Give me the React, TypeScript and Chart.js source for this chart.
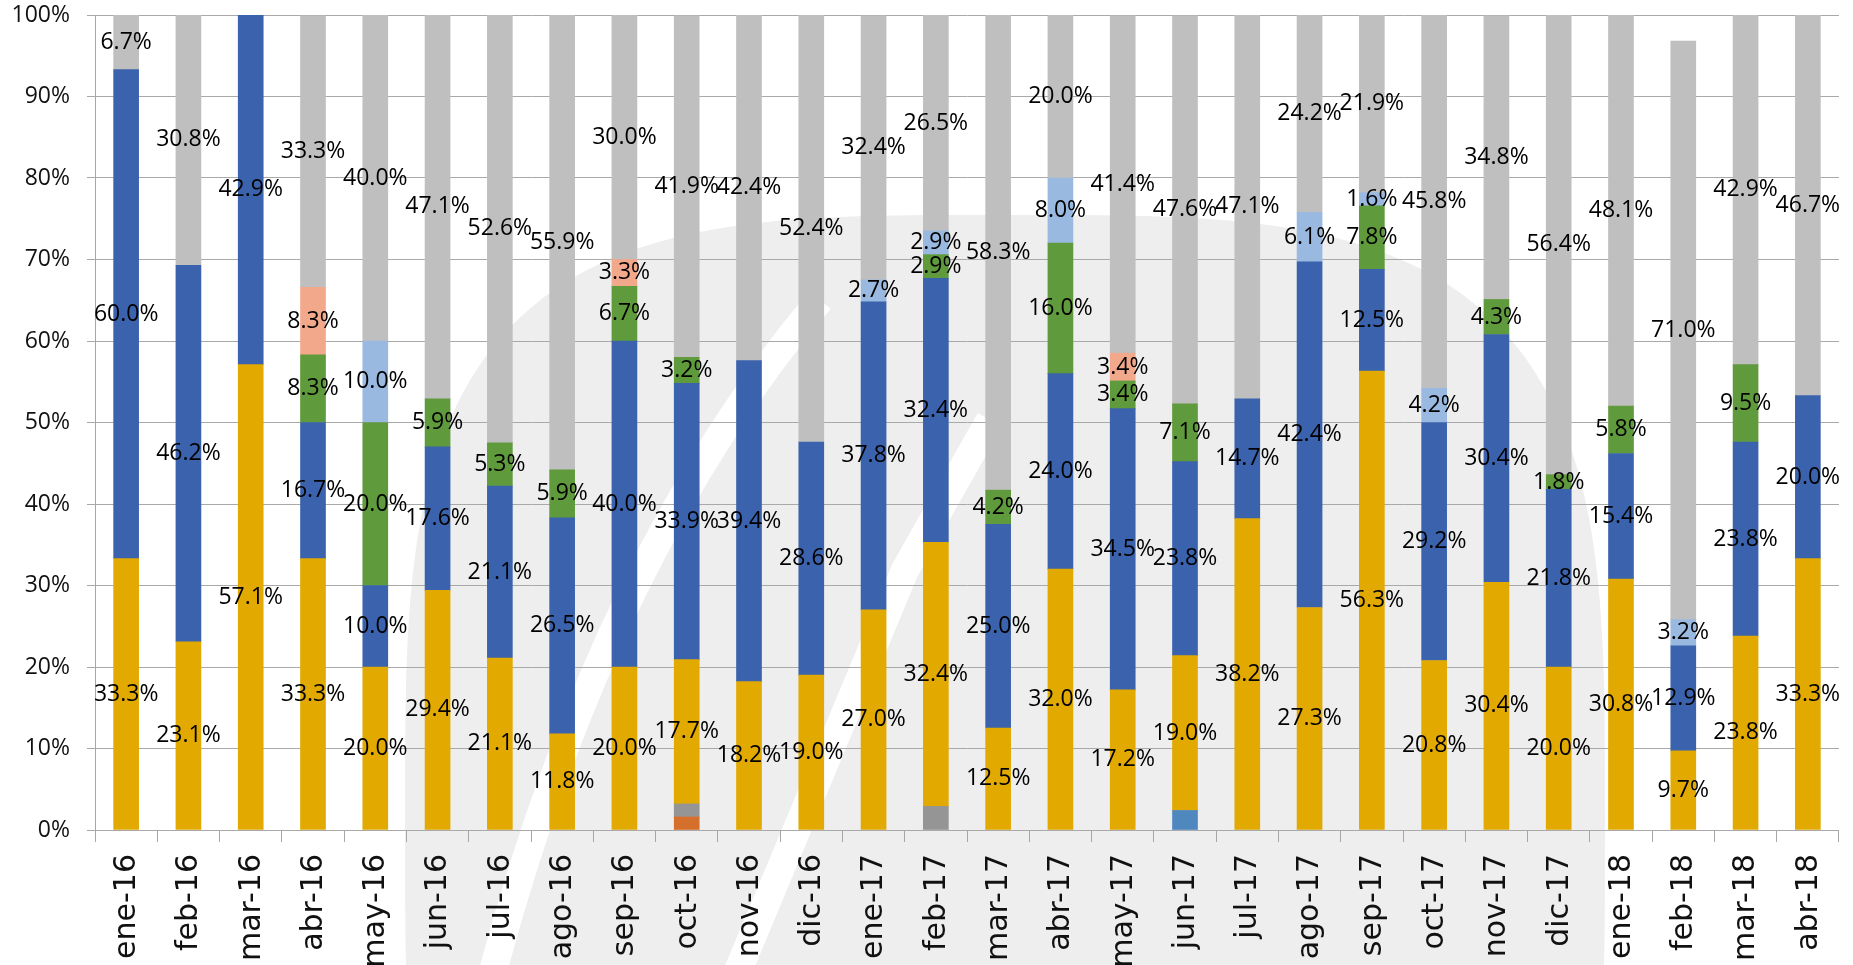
import React, { useEffect, useRef } from "react";
import { Chart, registerables } from "chart.js";

Chart.register(...registerables);

const categories = [
  "ene-16", "feb-16", "mar-16", "abr-16", "may-16", "jun-16", "jul-16", "ago-16", "sep-16", "oct-16",
  "nov-16", "dic-16", "ene-17", "feb-17", "mar-17", "abr-17", "may-17", "jun-17", "jul-17", "ago-17",
  "sep-17", "oct-17", "nov-17", "dic-17", "ene-18", "feb-18", "mar-18", "abr-18",
];

const N = null;
const orangeSmall = [N, N, N, N, N, N, N, N, N, 1.6, N, N, N, N, N, N, N, N, N, N, N, N, N, N, N, N, N, N];
const graySmall = [N, N, N, N, N, N, N, N, N, 1.6, N, N, N, 2.9, N, N, N, N, N, N, N, N, N, N, N, N, N, N];
const steelSmall = [N, N, N, N, N, N, N, N, N, N, N, N, N, N, N, N, N, 2.4, N, N, N, N, N, N, N, N, N, N];
const goldValues = [33.3, 23.1, 57.1, 33.3, 20.0, 29.4, 21.1, 11.8, 20.0, 17.7, 18.2, 19.0, 27.0, 32.4, 12.5, 32.0, 17.2, 19.0, 38.2, 27.3, 56.3, 20.8, 30.4, 20.0, 30.8, 9.7, 23.8, 33.3];
const blueValues = [60.0, 46.2, 42.9, 16.7, 10.0, 17.6, 21.1, 26.5, 40.0, 33.9, 39.4, 28.6, 37.8, 32.4, 25.0, 24.0, 34.5, 23.8, 14.7, 42.4, 12.5, 29.2, 30.4, 21.8, 15.4, 12.9, 23.8, 20.0];
const greenValues = [N, N, N, 8.3, 20.0, 5.9, 5.3, 5.9, 6.7, 3.2, N, N, N, 2.9, 4.2, 16.0, 3.4, 7.1, N, N, 7.8, N, 4.3, 1.8, 5.8, N, 9.5, N];
const salmonValues = [N, N, N, 8.3, N, N, N, N, 3.3, N, N, N, N, N, N, N, 3.4, N, N, N, N, N, N, N, N, N, N, N];
const lightBlueValues = [N, N, N, N, 10.0, N, N, N, N, N, N, N, 2.7, 2.9, N, 8.0, N, N, N, 6.1, 1.6, 4.2, N, N, N, 3.2, N, N];
const grayValues = [6.7, 30.8, N, 33.3, 40.0, 47.1, 52.6, 55.9, 30.0, 41.9, 42.4, 52.4, 32.4, 26.5, 58.3, 20.0, 41.4, 47.6, 47.1, 24.2, 21.9, 45.8, 34.8, 56.4, 48.1, 71.0, 42.9, 46.7];

const yTicks = [0, 10, 20, 30, 40, 50, 60, 70, 80, 90, 100];

const FONT = "'Open Sans', 'DejaVu Sans', sans-serif";
const XFONT = "'DejaVu Sans', 'Open Sans', sans-serif";

function superellipse(ctx: CanvasRenderingContext2D, cx: number, cy: number, a: number, b: number, n: number) {
  ctx.beginPath();
  const steps = 240;
  for (let i = 0; i <= steps; i++) {
    const t = (i / steps) * Math.PI * 2;
    const c = Math.cos(t), s = Math.sin(t);
    const x = cx + a * Math.sign(c) * Math.pow(Math.abs(c), 2 / n);
    const y = cy + b * Math.sign(s) * Math.pow(Math.abs(s), 2 / n);
    if (i === 0) ctx.moveTo(x, y);
    else ctx.lineTo(x, y);
  }
  ctx.closePath();
}

const watermarkPlugin = {
  id: "watermark",
  beforeDraw(chart: any) {
    const ctx = chart.ctx as CanvasRenderingContext2D;
    ctx.save();
    ctx.fillStyle = "#ffffff";
    ctx.fillRect(0, 0, chart.width, chart.height);
    ctx.beginPath();
    ctx.rect(0, 0, chart.width, chart.height);
    ctx.clip();
    ctx.fillStyle = "#eeeeee";
    superellipse(ctx, 1005, 825, 600, 610, 3.5);
    ctx.fill();
    ctx.strokeStyle = "#ffffff";
    ctx.lineWidth = 28;
    ctx.lineCap = "butt";
    ctx.beginPath();
    ctx.moveTo(488, 990);
    ctx.quadraticCurveTo(600, 560, 820, 300);
    ctx.stroke();
    ctx.beginPath();
    ctx.moveTo(730, 990);
    ctx.lineTo(905, 570);
    ctx.lineTo(990, 420);
    ctx.stroke();
    ctx.restore();
  },
};

const labelPlugin = {
  id: "segLabels",
  afterDatasetsDraw(chart: any) {
    const ctx = chart.ctx;
    ctx.save();
    ctx.font = `23px ${FONT}`;
    ctx.fillStyle = "#000000";
    ctx.textAlign = "center";
    ctx.textBaseline = "middle";
    chart.data.datasets.forEach((ds: any, di: number) => {
      if (!ds.showLabels) return;
      const meta = chart.getDatasetMeta(di);
      meta.data.forEach((bar: any, i: number) => {
        const v = ds.data[i];
        if (v === null || v === undefined) return;
        const y = (bar.y + bar.base) / 2;
        ctx.fillText(v.toFixed(1) + "%", bar.x, y);
      });
    });
    ctx.restore();
  },
};

const xLabelPlugin = {
  id: "xLabels",
  afterDraw(chart: any) {
    const ctx = chart.ctx as CanvasRenderingContext2D;
    const xs = chart.scales.x;
    ctx.save();
    ctx.font = `30px ${XFONT}`;
    ctx.fillStyle = "#111111";
    ctx.textAlign = "right";
    ctx.textBaseline = "middle";
    const yEnd = chart.chartArea.bottom + 24;
    chart.data.labels.forEach((lab: string, i: number) => {
      const x = xs.getPixelForTick(i);
      ctx.save();
      ctx.translate(x + 1, yEnd);
      ctx.rotate(-Math.PI / 2);
      ctx.fillText(lab, 0, 0);
      ctx.restore();
    });
    ctx.restore();
  },
};

export default function App() {
  const ref = useRef<HTMLCanvasElement | null>(null);
  useEffect(() => {
    const mk = (label: string, data: any[], color: string, showLabels: boolean) => ({
      label,
      data,
      backgroundColor: color,
      borderWidth: 0,
      barThickness: 25,
      showLabels,
    });
    const chart = new Chart(ref.current as HTMLCanvasElement, {
      type: "bar",
      data: {
        labels: categories,
        datasets: [
          mk("a", orangeSmall, "#d4702c", false),
          mk("b", graySmall, "#959595", false),
          mk("c", steelSmall, "#4f88bf", false),
          mk("gold", goldValues, "#e2a900", true),
          mk("blue", blueValues, "#3b63ad", true),
          mk("green", greenValues, "#5f9a3c", true),
          mk("salmon", salmonValues, "#f2a88a", true),
          mk("lightblue", lightBlueValues, "#99b9e0", true),
          mk("gray", grayValues, "#bfbfbf", true),
        ] as any,
      },
      options: {
        responsive: false,
        animation: false,
        devicePixelRatio: 1,
        layout: { padding: { top: 15, right: 14, bottom: 0, left: 0 } },
        plugins: {
          legend: { display: false },
          tooltip: { enabled: false },
          title: { display: false },
        },
        scales: {
          x: {
            stacked: true,
            offset: true,
            grid: {
              offset: true,
              drawOnChartArea: false,
              drawTicks: true,
              tickLength: 12,
              color: "#a6a6a6",
              lineWidth: 1,
            },
            border: { display: false },
            ticks: {
              display: false,
              autoSkip: false,
            },
            afterFit(scale: any) {
              scale.height = 135;
              scale.paddingLeft = 0;
              scale.paddingRight = 0;
            },
          },
          y: {
            stacked: true,
            min: 0,
            max: 100,
            afterBuildTicks(scale: any) {
              scale.ticks = yTicks.map((v) => ({ value: v }));
            },
            grid: {
              color: "#a9a9a9",
              lineWidth: 1,
              drawTicks: true,
              tickLength: 8,
            },
            border: { display: true, color: "#a6a6a6", width: 1 },
            ticks: {
              padding: 17,
              color: "#111111",
              font: { family: FONT, size: 23 },
              callback: (v: any) => `${v}%`,
            },
            afterFit(scale: any) {
              scale.width = 95;
              scale.paddingTop = 0;
              scale.paddingBottom = 0;
            },
          },
        },
      },
      plugins: [watermarkPlugin, labelPlugin, xLabelPlugin],
    });
    return () => chart.destroy();
  }, []);
  return (
    <div style={{ position: "absolute", left: 0, top: 0, width: 1853, height: 965, background: "#fff" }}>
      <canvas ref={ref} width={1853} height={965} style={{ display: "block" }} />
    </div>
  );
}
